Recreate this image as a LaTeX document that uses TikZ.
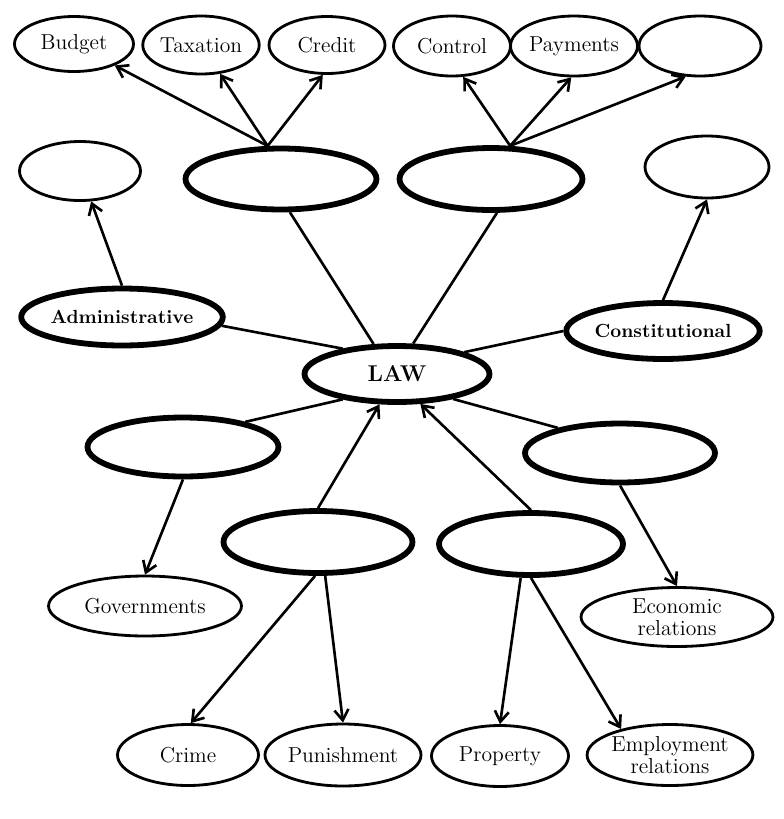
\documentclass[tikz,border=0pt]{standalone}
\usetikzlibrary{shapes.geometric, arrows.meta}
\begin{document}
\begin{tikzpicture}[x=0.02cm, y=-0.02cm, >={Straight Barb[length=6pt,width=8pt]},
	leaf/.style={draw, ellipse, line width=1.6pt, inner sep=0pt, align=center, font=\fontsize{12.3}{12.5}\selectfont},
	branch/.style={draw, ellipse, line width=3.3pt, inner sep=0pt, font=\bfseries\fontsize{10.8}{13}\selectfont},
	link/.style={line width=1.5pt}]
		\path[use as bounding box] (0,0) rectangle (784,819);
		
		% Finanzen
		\node[leaf, minimum width=2.38cm, minimum height=1.10cm] (budget) at (74,44) {Budget};
		\node[leaf, minimum width=2.30cm, minimum height=1.16cm] (taxation) at (201,45) {Taxation};
		\node[leaf, minimum width=2.32cm, minimum height=1.14cm] (credit) at (327,45) {Credit};
		\node[leaf, minimum width=2.34cm, minimum height=1.20cm] (control) at (452,46) {Control};
		\node[leaf, minimum width=2.24cm, minimum height=1.20cm] (payments) at (574,46) {Payments};
		\node[leaf, minimum width=2.44cm, minimum height=1.20cm] (r1) at (700,46) {};
		
		% zweite Reihe
		\node[leaf, minimum width=2.42cm, minimum height=1.18cm] (l1) at (80,171) {};
		\node[branch, minimum width=3.82cm, minimum height=1.22cm] (t1) at (281,179) {};
		\node[branch, minimum width=3.66cm, minimum height=1.24cm] (t2) at (491,179) {};
		\node[leaf, minimum width=2.48cm, minimum height=1.24cm] (r2) at (707,167) {};
		
		% Mitte
		\node[branch, minimum width=3.88cm, minimum height=1.14cm] (admin) at (122,317) {Administrative};
		\node[branch, minimum width=3.82cm, minimum height=1.12cm] (const) at (663,331) {Constitutional};
		\node[branch, minimum width=3.70cm, minimum height=1.12cm, font=\bfseries\fontsize{13}{15}\selectfont] (law) at (397,374) {LAW};
		
		% untere Reihe
		\node[branch, minimum width=3.82cm, minimum height=1.18cm] (t3) at (183,447) {};
		\node[branch, minimum width=3.80cm, minimum height=1.18cm] (t4) at (620,453) {};
		\node[branch, minimum width=3.78cm, minimum height=1.24cm] (m1) at (318,542) {};
		\node[branch, minimum width=3.68cm, minimum height=1.24cm] (m2) at (531,544) {};
		\node[leaf, minimum width=3.86cm, minimum height=1.20cm] (gov) at (145,606) {Governments};
		\node[leaf, minimum width=3.84cm, minimum height=1.18cm] (econ) at (677,617) {Economic\\relations};
		\node[leaf, minimum width=2.82cm, minimum height=1.22cm] (crime) at (188,755) {Crime};
		\node[leaf, minimum width=2.80cm, minimum height=1.24cm] (punish) at (343,755) {Punishment};
		\node[leaf, minimum width=2.74cm, minimum height=1.22cm] (property) at (500,756) {Property};
		\node[leaf, minimum width=3.28cm, minimum height=1.22cm] (employ) at (670,755) {Employment\\relations};
		
		% Pfeile oben
		\draw[link,->] (t1.112) -- (budget);
		\draw[link,->] (t1.112) -- (taxation);
		\draw[link,->] (t1.112) -- (credit.262);
		\draw[link,->] (t2.60) -- (control.290);
		\draw[link,->] (t2.60) -- (payments.265);
		\draw[link,->] (t2.60) -- (r1.245);
		\draw[link,->] (admin.north) -- (l1);
		\draw[link,->] (const.north) -- (r2.south);
		
		% Linien zum LAW
		\draw[link] (t1.285) -- (law.128);
		\draw[link] (t2.280) -- (law.62);
		\draw[link] (admin.-5) -- (law.155);
		\draw[link] (const.west) -- (law.18);
		\draw[link] (law.205) -- (t3.22);
		\draw[link] (law.-24) -- (t4.158);
		\draw[link,->] (m1.north) -- (law.240);
		\draw[link,->] (m2.north) -- (law.-52);
		
		% Pfeile unten
		\draw[link,->] (t3.south) -- (gov.north);
		\draw[link,->] (t4.south) -- (econ.north);
		\draw[link,->] (m1.265) -- (crime.85);
		\draw[link,->] (m1.282) -- (punish.north);
		\draw[link,->] (m2.253) -- (property.north);
		\draw[link,->] (m2.south) -- (employ.152);
	\end{tikzpicture}
\end{document}
